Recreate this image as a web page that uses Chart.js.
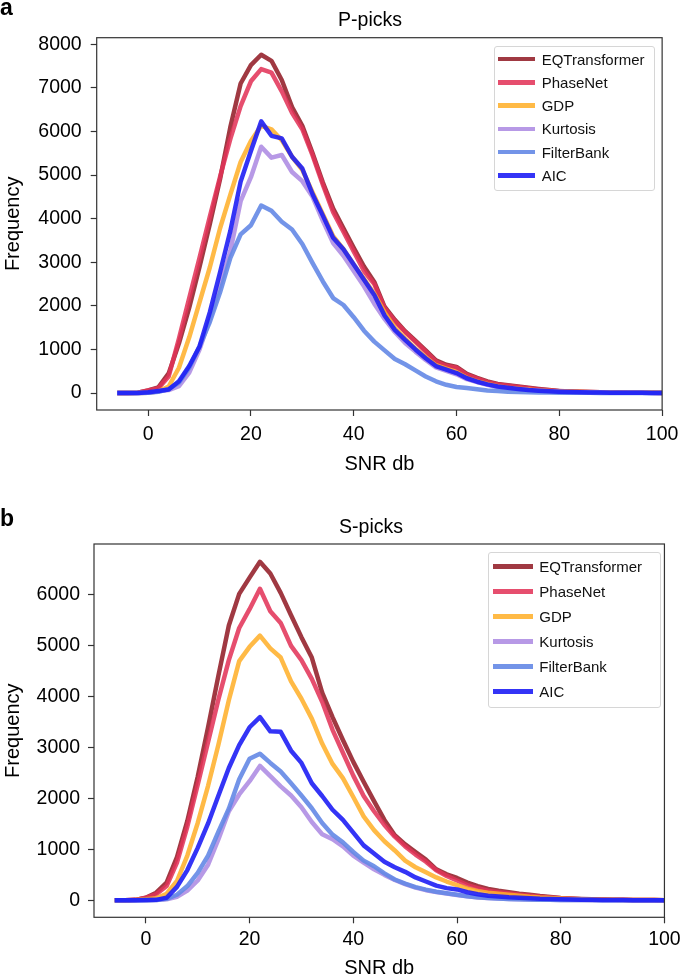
<!DOCTYPE html>
<html><head><meta charset="utf-8">
<script src="https://cdn.jsdelivr.net/npm/chart.js@4.4.0/dist/chart.umd.min.js"></script>
<style>
html,body{margin:0;padding:0;background:#fff;width:685px;height:978px;overflow:hidden;font-family:"Liberation Sans",Arial,sans-serif;}
.panel{position:absolute;left:0;width:685px;height:489px;}
#pa{top:0} #pb{top:489px}
canvas{display:block}
.lbl{position:absolute;font-weight:bold;font-size:23px;line-height:23px;color:#000}
.ttl{position:absolute;width:200px;text-align:center;font-size:19.5px;line-height:19.5px;color:#000}
.leg{position:absolute;background:rgba(255,255,255,0.8);border:1px solid #d6d6d6;border-radius:3px;box-sizing:border-box}
.row{position:absolute;font-size:15px;line-height:15px;color:#111;white-space:nowrap}
.sw{position:absolute;height:4.5px}
</style></head><body>
<div class="panel" id="pa"><canvas id="cP" width="685" height="489" style="width:685px;height:489px"></canvas></div>
<div class="panel" id="pb"><canvas id="cS" width="685" height="489" style="width:685px;height:489px"></canvas></div>
<div class="lbl" style="left:0;top:-4.5px">a</div>
<div class="lbl" style="left:0;top:507px">b</div>
<div class="ttl" style="left:270px;top:10.2px">P-picks</div>
<div class="ttl" style="left:271px;top:516.5px">S-picks</div>
<div id="legP" class="leg" style="left:494px;top:46px;width:161px;height:145px"></div>
<div id="legS" class="leg" style="left:488px;top:552px;width:173px;height:156px"></div>
<script>
const snrDb = [-6,-4,-2,0,2,4,6,8,10,12, 14,16,18,20,22,24,26,28,30,32, 34,36,38,40,42,44,46,48,50,52, 54,56,58,60,62,64,66,68,70,72, 74,76,78,80,82,84,86,88,90,92, 94,96,98,100];
const xTicks = [0,20,40,60,80,100];
const yTicksP = [0,1000,2000,3000,4000,5000,6000,7000,8000];
const yTicksS = [0,1000,2000,3000,4000,5000,6000];
const methods = ['EQTransformer','PhaseNet','GDP','Kurtosis','FilterBank','AIC'];
const colors = ['rgba(150,35,45,0.9)','rgba(226,52,88,0.87)','rgba(255,176,42,0.87)','rgba(172,138,226,0.87)','rgba(100,136,230,0.9)','rgba(30,30,245,0.9)'];

// P-picks
const pEQT = [0,0,10,60,130,450,1140,1960,2890,3870, 4910,6100,7100,7520,7760,7620,7180,6560,6130,5500, 4830,4230,3780,3330,2900,2550,1980,1680,1420,1200, 980,750,650,600,440,350,270,210,180,150, 120,95,70,50,40,30,25,20,15,12, 10,8,6,5];
const pPhaseNet = [0,0,10,60,110,380,1250,2180,3100,4040, 4960,5830,6580,7150,7430,7350,6920,6430,6050,5450, 4780,4150,3700,3250,2800,2500,1950,1650,1400,1180, 950,720,620,580,420,330,250,200,170,140, 110,85,65,45,35,28,22,18,14,11, 9,7,5,4];
const pGDP = [0,0,0,10,40,150,580,1280,2080,2880, 3780,4550,5300,5780,6130,6050,5800,5420,5120,4600, 4100,3600,3300,2950,2620,2280,1850,1500,1250,1020, 820,640,560,480,350,270,210,160,125,100, 80,60,45,35,28,22,18,14,11,9, 7,6,5,4];
const pKurtosis = [0,0,0,10,40,70,160,470,1000,1700, 2460,3260,4400,4950,5650,5400,5460,5070,4860,4500, 3950,3440,3150,2800,2450,2050,1700,1400,1150,950, 760,590,510,430,320,250,190,140,110,90, 70,55,42,32,25,20,16,13,10,8, 6,5,4,3];
const pFilterBank = [0,0,0,10,30,90,240,580,1070,1630, 2310,3100,3640,3850,4300,4180,3930,3750,3420,2980, 2560,2180,2020,1740,1430,1180,980,780,660,520, 380,270,190,140,115,90,60,45,30,25, 20,15,12,10,8,6,5,4,3,3, 2,2,1,1];
const pAIC = [0,0,0,20,50,80,270,620,1070,1850, 2770,3720,4850,5550,6230,5900,5840,5420,5150,4560, 4070,3560,3300,2950,2600,2250,1780,1450,1220,1000, 800,620,540,460,340,260,200,150,120,95, 70,55,40,30,24,19,15,12,10,8, 6,5,4,3];

// S-picks
const sEQT = [0,0,10,50,150,350,850,1560,2430,3400, 4420,5400,6020,6340,6650,6420,6040,5600,5170,4770, 4080,3600,3150,2720,2330,1950,1580,1280,1100,950, 800,610,510,440,350,280,225,190,160,130, 110,85,65,45,35,28,22,18,14,11, 9,7,5,4];
const sPhaseNet = [0,0,10,50,120,280,740,1450,2270,3110, 3950,4720,5350,5720,6120,5680,5450,5000,4720,4350, 3900,3350,2900,2450,2050,1750,1480,1250,1060,900, 760,590,480,390,300,240,190,160,135,110, 90,70,55,40,30,24,19,15,12,10, 8,6,5,4];
const sGDP = [0,0,5,20,40,130,380,880,1520,2250, 3060,3930,4700,4980,5200,4950,4770,4300,3960,3570, 3080,2680,2400,2030,1650,1380,1160,980,780,650, 550,450,370,300,230,180,150,130,110,90, 70,55,45,35,28,22,18,14,11,9, 7,6,5,4];
const sKurtosis = [0,0,0,0,5,20,70,190,390,700, 1200,1750,2080,2340,2640,2440,2240,2060,1830,1540, 1300,1200,1060,880,740,610,500,400,320,250, 200,165,135,105,78,58,44,34,27,21, 17,13,10,8,6,5,4,3,3,2, 2,1,1,1];
const sFilterBank = [0,0,0,0,5,30,110,280,540,880, 1350,1800,2380,2780,2880,2700,2530,2300,2060,1810, 1520,1290,1140,950,780,670,530,410,330,260, 210,170,140,110,80,60,45,35,28,22, 18,14,11,9,7,6,5,4,3,3, 2,2,1,1];
const sAIC = [0,0,0,5,10,50,265,595,1030,1510, 2060,2600,3050,3400,3600,3320,3310,2940,2700,2300, 2050,1780,1580,1330,1080,920,760,650,560,450, 370,290,240,215,160,120,90,75,60,50, 40,30,25,20,16,13,10,8,6,5, 4,3,3,2];

const FONT = '"Liberation Sans", Arial, Helvetica, sans-serif';

const frame = {id:'frame', afterDatasetsDraw(chart){
  const {ctx, chartArea:a} = chart;
  ctx.save(); ctx.strokeStyle='#333'; ctx.lineWidth=1.2;
  ctx.strokeRect(a.left, a.top, a.right-a.left, a.bottom-a.top);
  ctx.restore();
}};

function make(id, series, yTicks, yMin, yMax, g){
  const datasets = series.map((arr,i)=>({
    label: methods[i],
    data: snrDb.map((x,j)=>({x:x, y:arr[j]})),
    borderColor: colors[i],
    backgroundColor: colors[i],
    borderWidth: 4.5,
    pointRadius: 0,
    tension: 0,
    fill: false,
    borderCapStyle: 'butt',
    borderJoinStyle: 'round',
    order: methods.length - i
  }));
  return new Chart(document.getElementById(id), {
    type: 'line',
    data: {datasets},
    plugins: [frame],
    options: {
      responsive: false,
      animation: false,
      devicePixelRatio: 1,
      layout: {padding: {top: g.padTop, right: g.padRight, bottom: 0, left: 0}},
      plugins: {legend: {display:false}, tooltip: {enabled:false}, title: {display:false}},
      scales: {
        x: {
          type: 'linear', min: -10, max: 100,
          afterBuildTicks: s => { s.ticks = xTicks.map(v=>({value:v})); },
          afterFit: s => { s.height = g.xHeight; },
          grid: {display:true, drawOnChartArea:false, drawTicks:true, tickLength:6, tickColor:'#333', tickWidth:1.2},
          border: {display:false},
          ticks: {color:'#000', font:{family:FONT, size:19.5}, padding:g.xTickPad, maxRotation:0, autoSkip:false, callback: v => String(v)},
          title: {display:true, text:'SNR db', color:'#000', font:{family:FONT, size:20}, padding:{top:0, bottom:g.xTitlePad}}
        },
        y: {
          type: 'linear', min: yMin, max: yMax,
          afterBuildTicks: s => { s.ticks = yTicks.map(v=>({value:v})); },
          afterFit: s => { s.width = g.yWidth; },
          grid: {display:true, drawOnChartArea:false, drawTicks:true, tickLength:6, tickColor:'#333', tickWidth:1.2},
          border: {display:false},
          ticks: {color:'#000', font:{family:FONT, size:19.5}, padding:g.yTickPad, autoSkip:false, callback: v => String(v)},
          title: {display:true, text:'Frequency', color:'#000', font:{family:FONT, size:20}, padding:{top:1.5, bottom:0}}
        }
      }
    }
  });
}

make('cP', [pEQT,pPhaseNet,pGDP,pKurtosis,pFilterBank,pAIC], yTicksP, -388, 8150,
  {padTop:37.7, padRight:22, yWidth:96.7, xHeight:79, xTickPad:6.6, yTickPad:9, xTitlePad:13});
make('cS', [sEQT,sPhaseNet,sGDP,sKurtosis,sFilterBank,sAIC], yTicksS, -333, 7000,
  {padTop:55, padRight:16.7, yWidth:94, xHeight:60.7, xTickPad:4.3, yTickPad:8, xTitlePad:-2});

function legend(id, rowTop, rowStep, swLeft, swWidth, txtLeft){
  const el = document.getElementById(id);
  methods.forEach((m,i)=>{
    const c = rowTop + rowStep*i;
    const sw = document.createElement('div');
    sw.className='sw';
    sw.style.left = swLeft+'px'; sw.style.width = swWidth+'px';
    sw.style.top = (c-2.25)+'px'; sw.style.background = colors[i];
    el.appendChild(sw);
    const t = document.createElement('div');
    t.className='row';
    t.style.left = txtLeft+'px'; t.style.top = (c-7.5)+'px';
    t.textContent = m;
    el.appendChild(t);
  });
}
legend('legP', 12, 23.3, 3.3, 36.7, 46.7);
legend('legS', 13.7, 25, 3.7, 40, 50.3);
</script>
</body></html>
